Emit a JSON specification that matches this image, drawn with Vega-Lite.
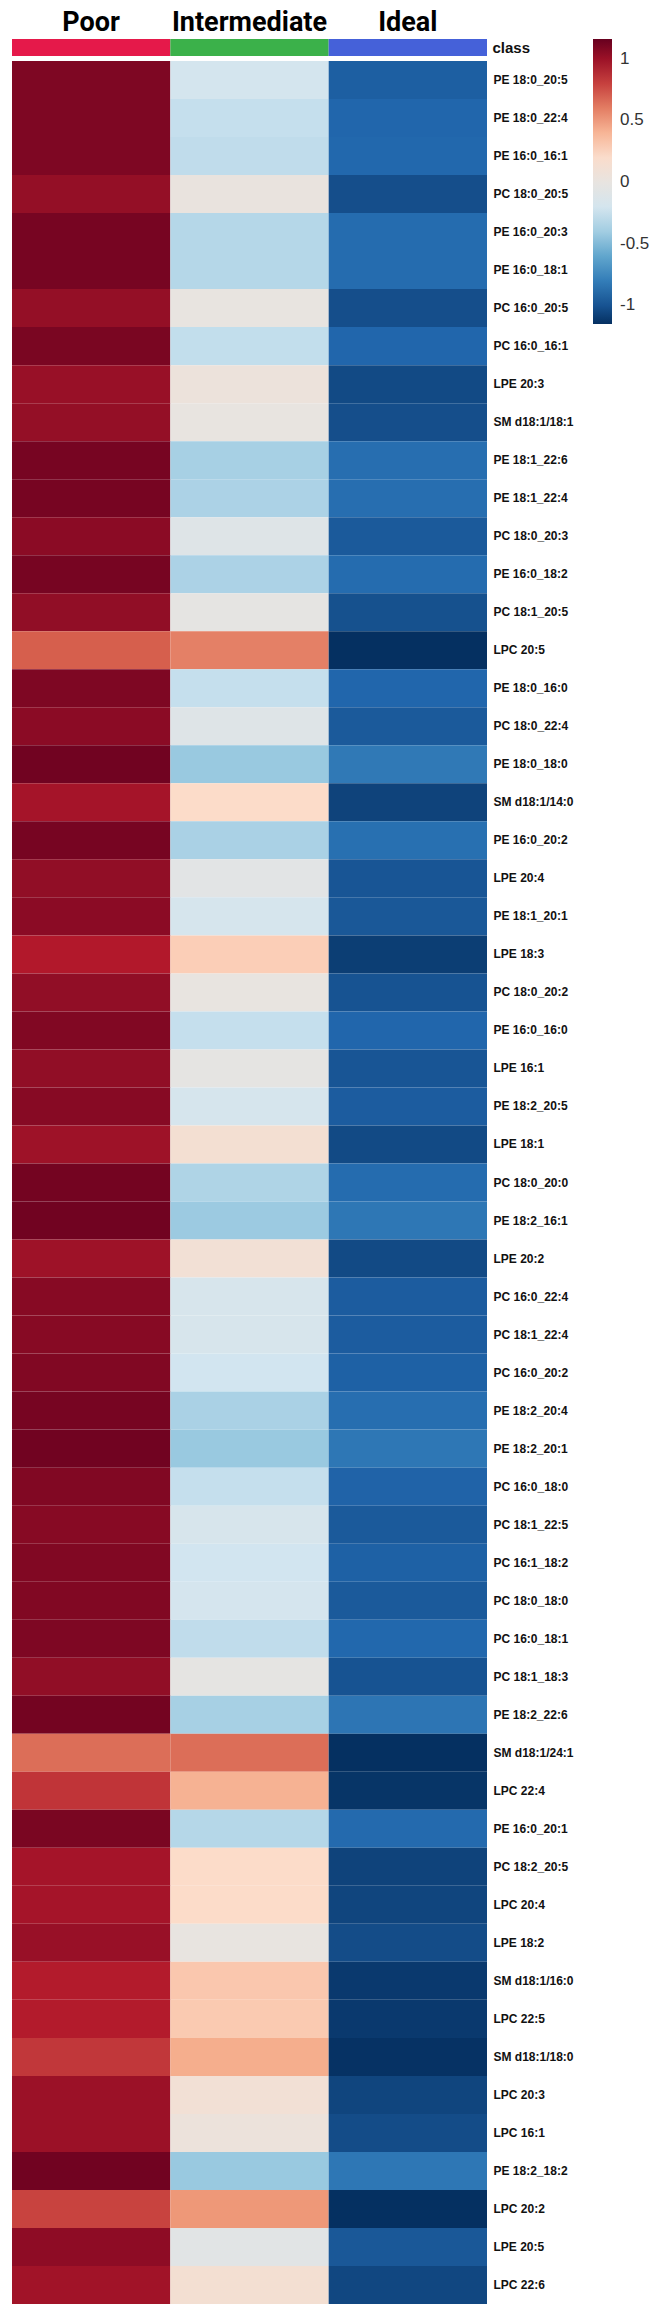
{
  "$schema": "https://vega.github.io/schema/vega-lite/v6.json",
  "padding": {"left": 12, "top": 8, "right": 0, "bottom": 0},
  "background": "white",
  "config": {"view": {"stroke": null}, "concat": {"spacing": 5}},
  "datasets": {
    "classes": [{"group": "Poor", "label": "class"}, {"group": "Intermediate", "label": "class"}, {"group": "Ideal", "label": "class"}],
    "cells": [
      {"lipid": "PE 18:0_20:5", "group": "Poor", "value": 1.09}, {"lipid": "PE 18:0_20:5", "group": "Intermediate", "value": -0.2}, {"lipid": "PE 18:0_20:5", "group": "Ideal", "value": -0.95},
      {"lipid": "PE 18:0_22:4", "group": "Poor", "value": 1.09}, {"lipid": "PE 18:0_22:4", "group": "Intermediate", "value": -0.27}, {"lipid": "PE 18:0_22:4", "group": "Ideal", "value": -0.92},
      {"lipid": "PE 16:0_16:1", "group": "Poor", "value": 1.09}, {"lipid": "PE 16:0_16:1", "group": "Intermediate", "value": -0.29}, {"lipid": "PE 16:0_16:1", "group": "Ideal", "value": -0.91},
      {"lipid": "PC 18:0_20:5", "group": "Poor", "value": 1.02}, {"lipid": "PC 18:0_20:5", "group": "Intermediate", "value": 0.02}, {"lipid": "PC 18:0_20:5", "group": "Ideal", "value": -1.02},
      {"lipid": "PE 16:0_20:3", "group": "Poor", "value": 1.11}, {"lipid": "PE 16:0_20:3", "group": "Intermediate", "value": -0.33}, {"lipid": "PE 16:0_20:3", "group": "Ideal", "value": -0.89},
      {"lipid": "PE 16:0_18:1", "group": "Poor", "value": 1.11}, {"lipid": "PE 16:0_18:1", "group": "Intermediate", "value": -0.33}, {"lipid": "PE 16:0_18:1", "group": "Ideal", "value": -0.89},
      {"lipid": "PC 16:0_20:5", "group": "Poor", "value": 1.02}, {"lipid": "PC 16:0_20:5", "group": "Intermediate", "value": 0.0}, {"lipid": "PC 16:0_20:5", "group": "Ideal", "value": -1.02},
      {"lipid": "PC 16:0_16:1", "group": "Poor", "value": 1.1}, {"lipid": "PC 16:0_16:1", "group": "Intermediate", "value": -0.28}, {"lipid": "PC 16:0_16:1", "group": "Ideal", "value": -0.92},
      {"lipid": "LPE 20:3", "group": "Poor", "value": 1.01}, {"lipid": "LPE 20:3", "group": "Intermediate", "value": 0.05}, {"lipid": "LPE 20:3", "group": "Ideal", "value": -1.04},
      {"lipid": "SM d18:1/18:1", "group": "Poor", "value": 1.02}, {"lipid": "SM d18:1/18:1", "group": "Intermediate", "value": 0.0}, {"lipid": "SM d18:1/18:1", "group": "Ideal", "value": -1.02},
      {"lipid": "PE 18:1_22:6", "group": "Poor", "value": 1.11}, {"lipid": "PE 18:1_22:6", "group": "Intermediate", "value": -0.38}, {"lipid": "PE 18:1_22:6", "group": "Ideal", "value": -0.88},
      {"lipid": "PE 18:1_22:4", "group": "Poor", "value": 1.11}, {"lipid": "PE 18:1_22:4", "group": "Intermediate", "value": -0.36}, {"lipid": "PE 18:1_22:4", "group": "Ideal", "value": -0.88},
      {"lipid": "PC 18:0_20:3", "group": "Poor", "value": 1.05}, {"lipid": "PC 18:0_20:3", "group": "Intermediate", "value": -0.1}, {"lipid": "PC 18:0_20:3", "group": "Ideal", "value": -0.97},
      {"lipid": "PE 16:0_18:2", "group": "Poor", "value": 1.11}, {"lipid": "PE 16:0_18:2", "group": "Intermediate", "value": -0.36}, {"lipid": "PE 16:0_18:2", "group": "Ideal", "value": -0.89},
      {"lipid": "PC 18:1_20:5", "group": "Poor", "value": 1.03}, {"lipid": "PC 18:1_20:5", "group": "Intermediate", "value": -0.03}, {"lipid": "PC 18:1_20:5", "group": "Ideal", "value": -1.01},
      {"lipid": "LPC 20:5", "group": "Poor", "value": 0.7}, {"lipid": "LPC 20:5", "group": "Intermediate", "value": 0.59}, {"lipid": "LPC 20:5", "group": "Ideal", "value": -1.15},
      {"lipid": "PE 18:0_16:0", "group": "Poor", "value": 1.09}, {"lipid": "PE 18:0_16:0", "group": "Intermediate", "value": -0.27}, {"lipid": "PE 18:0_16:0", "group": "Ideal", "value": -0.92},
      {"lipid": "PC 18:0_22:4", "group": "Poor", "value": 1.05}, {"lipid": "PC 18:0_22:4", "group": "Intermediate", "value": -0.1}, {"lipid": "PC 18:0_22:4", "group": "Ideal", "value": -0.97},
      {"lipid": "PE 18:0_18:0", "group": "Poor", "value": 1.13}, {"lipid": "PE 18:0_18:0", "group": "Intermediate", "value": -0.43}, {"lipid": "PE 18:0_18:0", "group": "Ideal", "value": -0.82},
      {"lipid": "SM d18:1/14:0", "group": "Poor", "value": 0.97}, {"lipid": "SM d18:1/14:0", "group": "Intermediate", "value": 0.22}, {"lipid": "SM d18:1/14:0", "group": "Ideal", "value": -1.07},
      {"lipid": "PE 16:0_20:2", "group": "Poor", "value": 1.11}, {"lipid": "PE 16:0_20:2", "group": "Intermediate", "value": -0.37}, {"lipid": "PE 16:0_20:2", "group": "Ideal", "value": -0.87},
      {"lipid": "LPE 20:4", "group": "Poor", "value": 1.03}, {"lipid": "LPE 20:4", "group": "Intermediate", "value": -0.06}, {"lipid": "LPE 20:4", "group": "Ideal", "value": -0.99},
      {"lipid": "PE 18:1_20:1", "group": "Poor", "value": 1.05}, {"lipid": "PE 18:1_20:1", "group": "Intermediate", "value": -0.18}, {"lipid": "PE 18:1_20:1", "group": "Ideal", "value": -0.98},
      {"lipid": "LPE 18:3", "group": "Poor", "value": 0.93}, {"lipid": "LPE 18:3", "group": "Intermediate", "value": 0.29}, {"lipid": "LPE 18:3", "group": "Ideal", "value": -1.09},
      {"lipid": "PC 18:0_20:2", "group": "Poor", "value": 1.03}, {"lipid": "PC 18:0_20:2", "group": "Intermediate", "value": 0.0}, {"lipid": "PC 18:0_20:2", "group": "Ideal", "value": -1.0},
      {"lipid": "PE 16:0_16:0", "group": "Poor", "value": 1.08}, {"lipid": "PE 16:0_16:0", "group": "Intermediate", "value": -0.27}, {"lipid": "PE 16:0_16:0", "group": "Ideal", "value": -0.92},
      {"lipid": "LPE 16:1", "group": "Poor", "value": 1.03}, {"lipid": "LPE 16:1", "group": "Intermediate", "value": -0.03}, {"lipid": "LPE 16:1", "group": "Ideal", "value": -0.99},
      {"lipid": "PE 18:2_20:5", "group": "Poor", "value": 1.06}, {"lipid": "PE 18:2_20:5", "group": "Intermediate", "value": -0.18}, {"lipid": "PE 18:2_20:5", "group": "Ideal", "value": -0.96},
      {"lipid": "LPE 18:1", "group": "Poor", "value": 0.99}, {"lipid": "LPE 18:1", "group": "Intermediate", "value": 0.13}, {"lipid": "LPE 18:1", "group": "Ideal", "value": -1.04},
      {"lipid": "PC 18:0_20:0", "group": "Poor", "value": 1.12}, {"lipid": "PC 18:0_20:0", "group": "Intermediate", "value": -0.35}, {"lipid": "PC 18:0_20:0", "group": "Ideal", "value": -0.89},
      {"lipid": "PE 18:2_16:1", "group": "Poor", "value": 1.13}, {"lipid": "PE 18:2_16:1", "group": "Intermediate", "value": -0.42}, {"lipid": "PE 18:2_16:1", "group": "Ideal", "value": -0.83},
      {"lipid": "LPE 20:2", "group": "Poor", "value": 0.99}, {"lipid": "LPE 20:2", "group": "Intermediate", "value": 0.11}, {"lipid": "LPE 20:2", "group": "Ideal", "value": -1.04},
      {"lipid": "PC 16:0_22:4", "group": "Poor", "value": 1.06}, {"lipid": "PC 16:0_22:4", "group": "Intermediate", "value": -0.17}, {"lipid": "PC 16:0_22:4", "group": "Ideal", "value": -0.96},
      {"lipid": "PC 18:1_22:4", "group": "Poor", "value": 1.06}, {"lipid": "PC 18:1_22:4", "group": "Intermediate", "value": -0.17}, {"lipid": "PC 18:1_22:4", "group": "Ideal", "value": -0.96},
      {"lipid": "PC 16:0_20:2", "group": "Poor", "value": 1.08}, {"lipid": "PC 16:0_20:2", "group": "Intermediate", "value": -0.22}, {"lipid": "PC 16:0_20:2", "group": "Ideal", "value": -0.94},
      {"lipid": "PE 18:2_20:4", "group": "Poor", "value": 1.11}, {"lipid": "PE 18:2_20:4", "group": "Intermediate", "value": -0.37}, {"lipid": "PE 18:2_20:4", "group": "Ideal", "value": -0.88},
      {"lipid": "PE 18:2_20:1", "group": "Poor", "value": 1.13}, {"lipid": "PE 18:2_20:1", "group": "Intermediate", "value": -0.43}, {"lipid": "PE 18:2_20:1", "group": "Ideal", "value": -0.83},
      {"lipid": "PC 16:0_18:0", "group": "Poor", "value": 1.08}, {"lipid": "PC 16:0_18:0", "group": "Intermediate", "value": -0.27}, {"lipid": "PC 16:0_18:0", "group": "Ideal", "value": -0.93},
      {"lipid": "PC 18:1_22:5", "group": "Poor", "value": 1.06}, {"lipid": "PC 18:1_22:5", "group": "Intermediate", "value": -0.17}, {"lipid": "PC 18:1_22:5", "group": "Ideal", "value": -0.97},
      {"lipid": "PC 16:1_18:2", "group": "Poor", "value": 1.08}, {"lipid": "PC 16:1_18:2", "group": "Intermediate", "value": -0.22}, {"lipid": "PC 16:1_18:2", "group": "Ideal", "value": -0.94},
      {"lipid": "PC 18:0_18:0", "group": "Poor", "value": 1.08}, {"lipid": "PC 18:0_18:0", "group": "Intermediate", "value": -0.19}, {"lipid": "PC 18:0_18:0", "group": "Ideal", "value": -0.97},
      {"lipid": "PC 16:0_18:1", "group": "Poor", "value": 1.09}, {"lipid": "PC 16:0_18:1", "group": "Intermediate", "value": -0.29}, {"lipid": "PC 16:0_18:1", "group": "Ideal", "value": -0.91},
      {"lipid": "PC 18:1_18:3", "group": "Poor", "value": 1.03}, {"lipid": "PC 18:1_18:3", "group": "Intermediate", "value": -0.03}, {"lipid": "PC 18:1_18:3", "group": "Ideal", "value": -1.0},
      {"lipid": "PE 18:2_22:6", "group": "Poor", "value": 1.12}, {"lipid": "PE 18:2_22:6", "group": "Intermediate", "value": -0.38}, {"lipid": "PE 18:2_22:6", "group": "Ideal", "value": -0.84},
      {"lipid": "SM d18:1/24:1", "group": "Poor", "value": 0.65}, {"lipid": "SM d18:1/24:1", "group": "Intermediate", "value": 0.65}, {"lipid": "SM d18:1/24:1", "group": "Ideal", "value": -1.15},
      {"lipid": "LPC 22:4", "group": "Poor", "value": 0.84}, {"lipid": "LPC 22:4", "group": "Intermediate", "value": 0.41}, {"lipid": "LPC 22:4", "group": "Ideal", "value": -1.13},
      {"lipid": "PE 16:0_20:1", "group": "Poor", "value": 1.1}, {"lipid": "PE 16:0_20:1", "group": "Intermediate", "value": -0.33}, {"lipid": "PE 16:0_20:1", "group": "Ideal", "value": -0.9},
      {"lipid": "PC 18:2_20:5", "group": "Poor", "value": 0.97}, {"lipid": "PC 18:2_20:5", "group": "Intermediate", "value": 0.22}, {"lipid": "PC 18:2_20:5", "group": "Ideal", "value": -1.07},
      {"lipid": "LPC 20:4", "group": "Poor", "value": 0.97}, {"lipid": "LPC 20:4", "group": "Intermediate", "value": 0.22}, {"lipid": "LPC 20:4", "group": "Ideal", "value": -1.06},
      {"lipid": "LPE 18:2", "group": "Poor", "value": 1.01}, {"lipid": "LPE 18:2", "group": "Intermediate", "value": 0.0}, {"lipid": "LPE 18:2", "group": "Ideal", "value": -1.03},
      {"lipid": "SM d18:1/16:0", "group": "Poor", "value": 0.92}, {"lipid": "SM d18:1/16:0", "group": "Intermediate", "value": 0.32}, {"lipid": "SM d18:1/16:0", "group": "Ideal", "value": -1.11},
      {"lipid": "LPC 22:5", "group": "Poor", "value": 0.92}, {"lipid": "LPC 22:5", "group": "Intermediate", "value": 0.31}, {"lipid": "LPC 22:5", "group": "Ideal", "value": -1.11},
      {"lipid": "SM d18:1/18:0", "group": "Poor", "value": 0.83}, {"lipid": "SM d18:1/18:0", "group": "Intermediate", "value": 0.43}, {"lipid": "SM d18:1/18:0", "group": "Ideal", "value": -1.14},
      {"lipid": "LPC 20:3", "group": "Poor", "value": 1.0}, {"lipid": "LPC 20:3", "group": "Intermediate", "value": 0.11}, {"lipid": "LPC 20:3", "group": "Ideal", "value": -1.06},
      {"lipid": "LPC 16:1", "group": "Poor", "value": 1.0}, {"lipid": "LPC 16:1", "group": "Intermediate", "value": 0.05}, {"lipid": "LPC 16:1", "group": "Ideal", "value": -1.03},
      {"lipid": "PE 18:2_18:2", "group": "Poor", "value": 1.13}, {"lipid": "PE 18:2_18:2", "group": "Intermediate", "value": -0.43}, {"lipid": "PE 18:2_18:2", "group": "Ideal", "value": -0.83},
      {"lipid": "LPC 20:2", "group": "Poor", "value": 0.79}, {"lipid": "LPC 20:2", "group": "Intermediate", "value": 0.51}, {"lipid": "LPC 20:2", "group": "Ideal", "value": -1.15},
      {"lipid": "LPE 20:5", "group": "Poor", "value": 1.04}, {"lipid": "LPE 20:5", "group": "Intermediate", "value": -0.07}, {"lipid": "LPE 20:5", "group": "Ideal", "value": -0.98},
      {"lipid": "LPC 22:6", "group": "Poor", "value": 0.98}, {"lipid": "LPC 22:6", "group": "Intermediate", "value": 0.13}, {"lipid": "LPC 22:6", "group": "Ideal", "value": -1.05}
    ]
  },
  "vconcat": [
    {
      "width": 475,
      "height": 17,
      "data": {"name": "classes"},
      "mark": {"type": "rect", "strokeWidth": 0},
      "encoding": {
        "x": {
          "field": "group", "type": "nominal", "sort": null,
          "scale": {"paddingInner": 0, "paddingOuter": 0},
          "axis": {"orient": "top", "title": null, "domain": false, "ticks": false, "labelAngle": 0,
                   "labelFont": "Roboto", "labelFontWeight": "bold", "labelFontSize": 27, "labelColor": "#000000",
                   "labelPadding": 9, "labelBaseline": "alphabetic"}
        },
        "y": {
          "field": "label", "type": "nominal",
          "axis": {"orient": "right", "title": null, "domain": false, "ticks": false,
                   "labelFont": "Liberation Sans", "labelFontWeight": "bold", "labelFontSize": 15, "labelColor": "#111111",
                   "labelPadding": 5}
        },
        "fill": {
          "field": "group", "type": "nominal",
          "scale": {"domain": ["Poor", "Intermediate", "Ideal"], "range": ["#E5194A", "#3BB14A", "#4561D9"]},
          "legend": null
        }
      }
    },
    {
      "width": 475,
      "height": 2243,
      "data": {"name": "cells"},
      "mark": {"type": "rect", "strokeWidth": 0},
      "encoding": {
        "x": {
          "field": "group", "type": "nominal", "sort": null,
          "scale": {"paddingInner": 0, "paddingOuter": 0},
          "axis": null
        },
        "y": {
          "field": "lipid", "type": "nominal", "sort": null,
          "scale": {"paddingInner": 0, "paddingOuter": 0},
          "axis": {"orient": "right", "title": null, "domain": false, "ticks": false,
                   "labelFont": "Liberation Sans", "labelFontWeight": "bold", "labelFontSize": 12, "labelColor": "#111111",
                   "labelPadding": 6}
        },
        "color": {
          "field": "value", "type": "quantitative",
          "scale": {
            "domain": [-1.15, -0.919, -0.688, -0.457, -0.226, 0.005, 0.236, 0.467, 0.698, 0.929, 1.16],
            "range": ["#053061", "#2166ac", "#4393c3", "#92c5de", "#d1e5f0", "#e8e4e0", "#fddbc7", "#f4a582", "#d6604d", "#b2182b", "#67001f"],
            "interpolate": "rgb"
          },
          "legend": {
            "orient": "none", "legendX": 581, "legendY": 0, "title": null, "direction": "vertical",
            "gradientLength": 285, "gradientThickness": 19, "gradientStrokeWidth": 0,
            "values": [-1, -0.5, 0, 0.5, 1], "labelExpr": "'' + datum.value", "labelFontSize": 17, "labelFont": "Liberation Sans",
            "labelColor": "#333333", "labelOffset": 8
          }
        }
      }
    }
  ]
}
